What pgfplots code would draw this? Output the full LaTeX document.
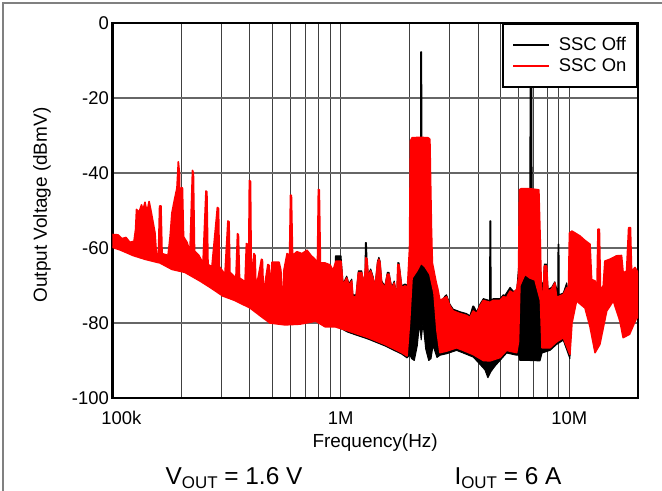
\documentclass[border=0pt]{standalone}
\usepackage{fontspec}
\setmainfont{Liberation Sans}
\usepackage{pgfplots}
\pgfplotsset{compat=1.18}
\begin{document}
\begin{tikzpicture}
\path[use as bounding box] (0,0) rectangle (662bp,491bp);
\draw[black!50, line width=1.5bp] (3bp,0bp) -- (3bp,488bp) -- (662bp,488bp);
\begin{axis}[
  at={(112.3bp,93bp)}, anchor=south west,
  width=525.7bp, height=375bp, scale only axis,
  xmin=5, xmax=7.30103, ymin=-100, ymax=0,
  xtick={5,6,7},
  xticklabels={{\makebox[0pt][l]{\hspace{-11bp}100k}},1M,10M},
  minor xtick={5.30103,5.47712,5.60206,5.69897,5.77815,5.84510,5.90309,5.95424,6.30103,6.47712,6.60206,6.69897,6.77815,6.84510,6.90309,6.95424},
  ytick={-100,-80,-60,-40,-20,0},
  yticklabels={-100,-80,-60,-40,-20,0},
  grid=both,
  x grid style={black!75, line width=0.9bp},
  y grid style={black!60, line width=1.5bp},
  major tick length=0pt, minor tick length=0pt,
  axis line style={line width=2.5bp},
  tick label style={font=\fontsize{18.5}{20}\selectfont},
  xticklabel style={yshift=-10bp},
  xlabel={Frequency(Hz)},
  ylabel={Output Voltage (dBmV)},
  label style={font=\fontsize{19}{21}\selectfont},
  xlabel style={at={(axis description cs:0.5,0)}, anchor=base, yshift=-49bp},
  ylabel style={at={(axis description cs:-0.1337,0.5147)}, anchor=center},
  legend style={at={(1,1)}, anchor=north east, draw=black, line width=2.2bp, fill=white,
    font=\fontsize{18.5}{20}\selectfont, inner xsep=9bp, inner ysep=11bp, row sep=1.2bp,
    column sep=7bp,
    nodes={inner sep=1.5bp, text height=13.5bp, text depth=3.5bp}},
  legend cell align=left,
  legend image code/.code={\draw[#1, line width=2.2bp] (-4bp,0bp) -- (32bp,0bp);},
]
\addlegendimage{black}
\addlegendentry{SSC Off}
\addlegendimage{red}
\addlegendentry{SSC On}

% SSC Off (black): upper envelope left to right, then lower envelope right to left
\addplot[forget plot, fill=black, draw=black, line width=1bp, line join=round] coordinates {
(5.000,-58.3)(5.091,-60.5)(5.209,-62.5)(5.261,-64.2)(5.318,-65)(5.384,-67.3)(5.484,-71.3)(5.603,-74.5)(5.646,-76.5)(5.690,-78.5)(5.740,-79.5)(5.756,-79.5)(5.821,-78.8)(5.891,-78)(5.931,-79.5)(5.970,-79.5)(5.977,-62.1)(6.001,-62.1)(6.010,-69.5)(6.026,-67.5)(6.036,-69.5)(6.048,-68.3)(6.053,-72.5)(6.067,-72.5)(6.077,-66.1)(6.092,-66.1)(6.099,-69.5)(6.106,-66.5)(6.108,-58.6)(6.112,-58.6)(6.115,-63)(6.120,-67)(6.131,-65.6)(6.141,-67.5)(6.150,-70.1)(6.161,-63.5)(6.167,-62.5)(6.172,-63.5)(6.179,-68.8)(6.193,-70.1)(6.204,-66.5)(6.211,-66.5)(6.223,-70.5)(6.234,-68.8)(6.245,-72.7)(6.250,-63.9)(6.255,-64)(6.267,-70.1)(6.281,-69.6)(6.294,-70)(6.301,-63)(6.348,-63)(6.350,-7.7)(6.354,-7.7)(6.357,-63)(6.397,-63)(6.401,-66)(6.417,-71)(6.423,-73)(6.434,-75)(6.456,-72.8)(6.463,-72.5)(6.478,-75)(6.492,-76.3)(6.522,-77)(6.551,-77.5)(6.565,-78.1)(6.578,-75.5)(6.582,-75.5)(6.595,-77)(6.609,-75)(6.624,-73.5)(6.651,-74)(6.653,-52.8)(6.657,-52.8)(6.658,-74)(6.667,-73.5)(6.697,-73.5)(6.711,-72.5)(6.719,-72.6)(6.741,-70.5)(6.755,-71.5)(6.770,-71.5)(6.781,-63)(6.827,-63)(6.829,-12)(6.836,-12)(6.838,-63)(6.873,-63)(6.877,-70)(6.887,-69)(6.891,-64.3)(6.901,-64.3)(6.907,-71)(6.923,-70.5)(6.937,-69)(6.950,-72)(6.951,-59)(6.955,-59)(6.956,-72.5)(6.974,-72)(6.989,-69.3)(6.996,-72.5)(7.003,-72)(7.091,-72)(7.113,-78)(7.134,-78)(7.156,-70)(7.193,-68)(7.222,-70)(7.244,-75)(7.301,-72)
(7.301,-73)(7.244,-76)(7.222,-71)(7.193,-69)(7.156,-71)(7.134,-79)(7.113,-79)(7.091,-73)(7.012,-73)(7.003,-89.5)(6.974,-84.6)(6.945,-85.7)(6.916,-87.3)(6.881,-88)(6.872,-90.1)(6.828,-90)(6.784,-90)(6.778,-88.5)(6.770,-88.6)(6.726,-88)(6.697,-90)(6.675,-91.5)(6.657,-93)(6.644,-94.6)(6.631,-92.5)(6.609,-91)(6.580,-89.1)(6.536,-88)(6.507,-87.3)(6.463,-88.2)(6.434,-88.6)(6.421,-89.2)(6.404,-86)(6.395,-89.5)(6.385,-90)(6.372,-87)(6.360,-80)(6.352,-84.5)(6.345,-80)(6.335,-86)(6.322,-90)(6.310,-89.5)(6.303,-88.5)(6.290,-89.3)(6.267,-88.3)(6.193,-86.1)(6.120,-84.3)(6.033,-82.5)(5.975,-80.7)(5.931,-80.7)(5.891,-79.2)(5.821,-80)(5.756,-80.2)(5.690,-79.7)(5.646,-77.7)(5.603,-75.7)(5.537,-73.7)(5.484,-72.5)(5.428,-70.2)(5.384,-68.5)(5.318,-66.2)(5.261,-65.4)(5.209,-63.7)(5.143,-62.7)(5.091,-61.7)(5.034,-60.2)(5.000,-59.5)
};

% SSC On (red)
\addplot[forget plot, fill=red, draw=red, line width=1.6bp, line join=round] coordinates {
(5.000,-56.4)(5.025,-56.5)(5.042,-57.5)(5.060,-57.2)(5.077,-58.5)(5.095,-58.2)(5.102,-55)(5.106,-49.7)(5.117,-50.5)(5.128,-48.5)(5.134,-50)(5.143,-47.8)(5.152,-50.5)(5.161,-47.6)(5.169,-50)(5.178,-53)(5.187,-56)(5.193,-61.5)(5.202,-61.5)(5.207,-48.8)(5.213,-48.8)(5.218,-61.5)(5.244,-62)(5.253,-57)(5.261,-50.6)(5.274,-46.6)(5.283,-44)(5.289,-37)(5.294,-40)(5.298,-56.4)(5.303,-43.9)(5.307,-44)(5.312,-57)(5.327,-58.5)(5.340,-61)(5.351,-39.3)(5.355,-40)(5.360,-60.8)(5.379,-62)(5.397,-64)(5.410,-44.8)(5.414,-45)(5.419,-64.4)(5.436,-65)(5.460,-49.2)(5.465,-49.5)(5.469,-65)(5.493,-67)(5.506,-52.8)(5.511,-53)(5.515,-66.5)(5.541,-68)(5.548,-56.2)(5.552,-56.5)(5.557,-68)(5.581,-69)(5.587,-58.8)(5.592,-59)(5.596,-70)(5.600,-42)(5.605,-42.3)(5.609,-70)(5.620,-61.5)(5.625,-62)(5.629,-71)(5.653,-63)(5.657,-63.2)(5.662,-72)(5.681,-64.4)(5.686,-64.6)(5.690,-72)(5.699,-63.8)(5.730,-63.8)(5.738,-66)(5.745,-78)(5.751,-66)(5.765,-61.5)(5.776,-62)(5.780,-45.9)(5.784,-46)(5.789,-62)(5.808,-61)(5.830,-61.5)(5.852,-60.6)(5.870,-62)(5.887,-63)(5.898,-64)(5.902,-44.4)(5.906,-44.5)(5.911,-64)(5.931,-64)(5.953,-64.5)(5.966,-66)(5.979,-63.5)(6.001,-63.5)(6.010,-70)(6.026,-68)(6.036,-70)(6.048,-68.8)(6.053,-73)(6.067,-73)(6.077,-66.6)(6.092,-66.6)(6.099,-70)(6.106,-67)(6.110,-62.6)(6.115,-63)(6.120,-67.5)(6.131,-66.1)(6.141,-68)(6.150,-70.6)(6.161,-64)(6.167,-63)(6.172,-64)(6.179,-69.3)(6.193,-70.6)(6.204,-67)(6.211,-67)(6.223,-71)(6.234,-69.3)(6.245,-73.2)(6.250,-64.4)(6.255,-64.5)(6.267,-70.6)(6.281,-70.1)(6.292,-70.5)(6.301,-60)(6.305,-31.5)(6.312,-30.6)(6.347,-30.5)(6.382,-30.6)(6.390,-31)(6.397,-55)(6.401,-64)(6.417,-69)(6.425,-71)(6.434,-74)(6.463,-73)(6.478,-75.5)(6.492,-76.8)(6.522,-77.5)(6.551,-78)(6.565,-78.6)(6.580,-76.8)(6.595,-77.5)(6.609,-75.5)(6.624,-74)(6.653,-74.5)(6.667,-74)(6.697,-74)(6.711,-73)(6.726,-73.2)(6.741,-71.5)(6.755,-72)(6.770,-71)(6.778,-68)(6.782,-44.5)(6.789,-44.2)(6.828,-44.2)(6.867,-44.5)(6.874,-60)(6.878,-71.5)(6.887,-71.5)(6.891,-64.8)(6.901,-64.8)(6.907,-71.5)(6.923,-71)(6.937,-69.3)(6.945,-73.2)(6.959,-72.8)(6.974,-72.4)(6.989,-70.6)(6.996,-73.2)(7.001,-56)(7.012,-55.5)(7.047,-56.8)(7.069,-58)(7.091,-59)(7.098,-68.4)(7.113,-68.8)(7.121,-71.5)(7.126,-55)(7.132,-55)(7.137,-71.5)(7.149,-70)(7.156,-63.5)(7.178,-63)(7.207,-62.1)(7.229,-62)(7.236,-66.6)(7.251,-66.2)(7.260,-54.6)(7.268,-54.6)(7.273,-66.2)(7.288,-65.2)(7.301,-66.6)
(7.301,-78.6)(7.295,-78.6)(7.264,-83)(7.236,-83.9)(7.222,-79.5)(7.193,-74.1)(7.164,-76.8)(7.134,-85.7)(7.113,-87.9)(7.091,-81)(7.069,-76)(7.032,-74.1)(7.012,-80)(7.003,-88.4)(6.974,-83.9)(6.945,-85)(6.916,-86.6)(6.881,-86.6)(6.874,-74)(6.850,-68.5)(6.828,-68)(6.806,-67)(6.784,-70)(6.778,-85)(6.770,-87.9)(6.726,-87.3)(6.697,-89.2)(6.653,-90.1)(6.624,-90)(6.580,-88.4)(6.536,-87.3)(6.507,-86.6)(6.463,-87.5)(6.434,-87.9)(6.421,-82)(6.408,-72)(6.390,-67)(6.369,-65)(6.351,-64)(6.334,-66)(6.312,-68)(6.301,-80)(6.290,-88.8)(6.267,-87.9)(6.193,-85.7)(6.120,-83.9)(6.033,-82.1)(5.975,-81)(5.931,-81)(5.891,-79.5)(5.821,-80.3)(5.756,-80.5)(5.690,-80)(5.646,-78)(5.603,-76)(5.537,-74)(5.484,-72.8)(5.428,-70.5)(5.384,-68.8)(5.318,-66.5)(5.261,-65.7)(5.209,-64)(5.143,-63)(5.091,-62)(5.034,-60.5)(5.000,-59.8)
};
\end{axis}
\node[anchor=base, font=\fontsize{24.5}{26}\selectfont] at (234bp,7bp) {V\raisebox{-0.2em}{\fontsize{17}{17}\selectfont OUT} = 1.6 V};
\node[anchor=base, font=\fontsize{24.5}{26}\selectfont] at (508bp,7bp) {I\raisebox{-0.2em}{\fontsize{17}{17}\selectfont OUT} = 6 A};
\end{tikzpicture}
\end{document}
